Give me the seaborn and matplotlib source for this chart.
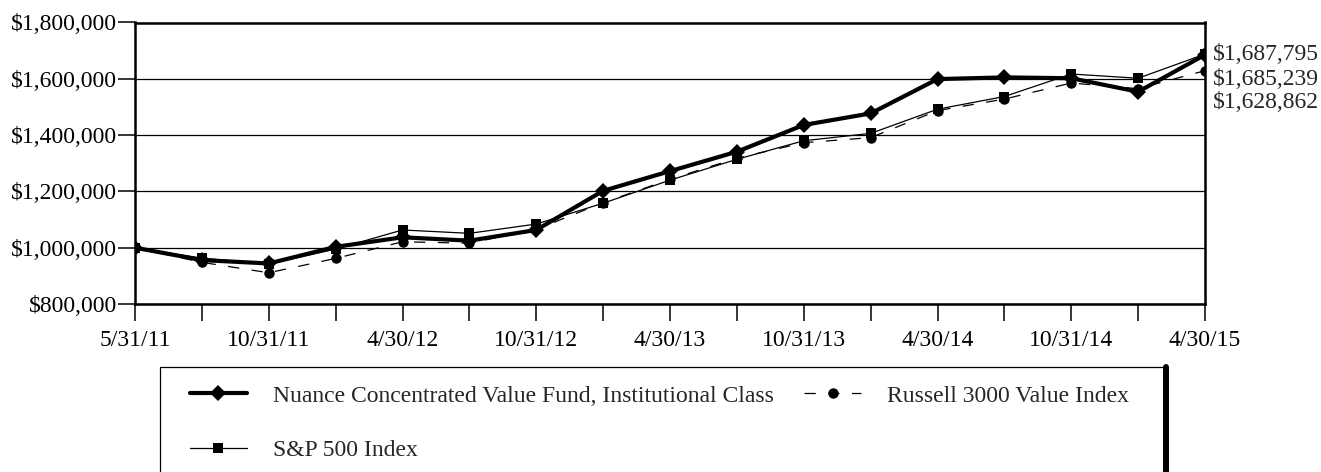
import matplotlib
matplotlib.use("Agg")
import matplotlib.pyplot as plt
from matplotlib.patches import Rectangle
from matplotlib.lines import Line2D
from matplotlib.ticker import FuncFormatter
import seaborn as sns
import pandas as pd

# ---- data ----
x_labels = ["5/31/11", "", "10/31/11", "", "4/30/12", "", "10/31/12", "", "4/30/13", "",
            "10/31/13", "", "4/30/14", "", "10/31/14", "", "4/30/15"]
fund = [1000000, 956000, 944000, 1003000, 1037000, 1025000, 1063000, 1202000, 1272000,
        1341000, 1436000, 1477000, 1599000, 1605000, 1602000, 1554000, 1685239]
sp500 = [1000000, 963000, 942000, 995000, 1063000, 1051000, 1084000, 1158000, 1240000,
         1314000, 1380000, 1406000, 1492000, 1537000, 1617000, 1602000, 1687795]
russell = [1000000, 948000, 911000, 962000, 1021000, 1016000, 1065000, 1160000, 1243000,
           1318000, 1373000, 1391000, 1487000, 1528000, 1585000, 1565000, 1628862]
series_names = ["Nuance Concentrated Value Fund, Institutional Class",
                "S&P 500 Index", "Russell 3000 Value Index"]
y_ticks = [800000, 1000000, 1200000, 1400000, 1600000, 1800000]

sns.set_theme(style="white")
plt.rcParams["font.family"] = ["Liberation Serif", "DejaVu Serif"]
FS = 17

W, H = 1321, 472
fig = plt.figure(figsize=(W / 100, H / 100), dpi=100)
ax = fig.add_axes([135 / W, 1 - 304 / H, (1205 - 135) / W, (304 - 22.5) / H])

xs = list(range(len(x_labels)))
sns.lineplot(x=xs, y=fund, ax=ax, color="black", lw=3.0, marker="D", markersize=8.5,
             markeredgewidth=0, label=series_names[0], zorder=5)
sns.lineplot(x=xs, y=sp500, ax=ax, color="black", lw=0.9, marker="s", markersize=7.5,
             markeredgewidth=0, label=series_names[1], zorder=4)
sns.lineplot(x=xs, y=russell, ax=ax, color="black", lw=0.9, marker="o", markersize=7.5,
             markeredgewidth=0, linestyle=(0, (9, 10)), label=series_names[2], zorder=4)

ax.set_xlim(0, len(x_labels) - 1)
ax.set_ylim(y_ticks[0], y_ticks[-1])
ax.set_xticks(xs)
ax.set_xticklabels(x_labels)
ax.set_yticks(y_ticks)
ax.yaxis.set_major_formatter(FuncFormatter(lambda v, p: f"${v:,.0f}"))
ax.grid(axis="y", color="black", lw=0.9)
ax.grid(axis="x", visible=False)
ax.set_axisbelow(True)
for s in ax.spines.values():
    s.set_visible(True)
    s.set_color("black")
    s.set_linewidth(1.8)
ax.tick_params(axis="both", direction="out", length=12, width=1.1, color="black",
               labelsize=FS, labelcolor="black")
ax.tick_params(axis="x", pad=7, bottom=True)
ax.tick_params(axis="y", pad=1, left=True)
ax.set_xlabel("")
ax.set_ylabel("")

# end value labels
finals = sorted([fund[-1], sp500[-1], russell[-1]], reverse=True)
for v, yf in zip(finals, [0.888, 0.799, 0.717]):
    ax.annotate(f"${v:,.0f}", xy=(1.0, yf), xycoords="axes fraction", xytext=(6, 0),
                textcoords="offset points", va="center", ha="left", fontsize=FS,
                annotation_clip=False)

# legend
handles, labels = ax.get_legend_handles_labels()
ax.get_legend().remove()
fig.legend(handles, labels, ncol=2,
           loc="upper left", bbox_to_anchor=(190 / W, 1 - 385 / H), frameon=False,
           borderpad=0, borderaxespad=0, fontsize=FS, handlelength=2.4,
           handletextpad=1.1, columnspacing=1.3, labelspacing=1.4)
fig.patches.append(Rectangle((160 / W, -0.1), (1166 - 160) / W, 1 - 367 / H + 0.1,
                             transform=fig.transFigure, fill=False, edgecolor="black",
                             lw=0.9))
fig.lines.append(Line2D([1166 / W, 1166 / W], [-0.1, 1 - 367 / H], transform=fig.transFigure,
                        color="black", lw=4.3))

fig.savefig("out.png", dpi=100)
